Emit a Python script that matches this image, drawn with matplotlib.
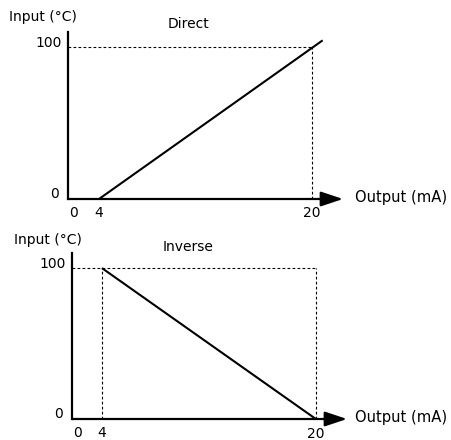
import matplotlib.pyplot as plt

plt.rcParams['font.family'] = ['DejaVu Sans']

# chart values
y_label = "Input (°C)"
x_label = "Output (mA)"
x_ticks = [0, 4, 20]
y_ticks = [0, 100]

direct_x = [4, 20.8]
direct_y = [0, 104.5]
inverse_x = [4, 20]
inverse_y = [100, 0]

W, H = 452, 440
fig = plt.figure(figsize=(W / 100, H / 100), dpi=100)


def panel(left, axis_y, top, x_lo, title, title_xy, ylab_xy, xs, ys, dotted_4, lab20_dy):
    # left/axis_y/top in pixels (from top-left corner)
    ax = fig.add_axes([left / W, (H - axis_y) / H, 275 / W, (axis_y - top) / H])
    ax.set_xlim(x_lo, 22.33)
    ax.set_ylim(0, 110)
    for s in ['top', 'right', 'bottom']:
        ax.spines[s].set_visible(False)
    ax.spines['left'].set_linewidth(1.6)
    ax.set_xticks([])
    ax.set_yticks([])

    # x axis with arrow
    ax.annotate('', xy=(22.33, 0), xytext=(x_lo, 0),
                arrowprops=dict(arrowstyle='-|>,head_length=1.35,head_width=0.45',
                                mutation_scale=10, lw=1.6, color='black',
                                shrinkA=0, shrinkB=0),
                annotation_clip=False)

    # dotted guides
    ax.plot([x_lo, 20], [100, 100], color='black', lw=0.8, ls=(0, (2.5, 2)))
    ax.plot([20, 20], [0, 100], color='black', lw=0.8, ls=(0, (2.5, 2)))
    if dotted_4:
        ax.plot([4, 4], [0, 100], color='black', lw=0.8, ls=(0, (2.5, 2)))

    ax.plot(xs, ys, color='black', lw=1.5, solid_capstyle='butt', clip_on=False)

    # tick labels
    xpos = [x_lo + 0.4, x_ticks[1], x_ticks[2]]
    ypos = [-9, -9, -9 - lab20_dy]
    for xp, yp, t in zip(xpos, ypos, x_ticks):
        ax.text(xp, yp, str(t), ha='center', va='center', fontsize=10)
    ax.text(x_lo - 0.45, y_ticks[1] + 3, str(y_ticks[1]), ha='right', va='center', fontsize=10)
    ax.text(x_lo - 0.7, y_ticks[0] + 3, str(y_ticks[0]), ha='right', va='center', fontsize=10)

    fig.text(title_xy[0] / W, 1 - title_xy[1] / H, title, ha='center', va='center', fontsize=10)
    fig.text(ylab_xy[0] / W, 1 - ylab_xy[1] / H, y_label, ha='left', va='center', fontsize=10)
    fig.text(355 / W, 1 - (axis_y - 2) / H, x_label, ha='left', va='center', fontsize=10.6)
    return ax


panel(68, 199, 32, 1.67, "Direct", (189, 24), (9, 17), direct_x, direct_y, False, 0)
panel(72, 419, 253, 1.76, "Inverse", (188, 247), (14, 240), inverse_x, inverse_y, True, 1)

fig.savefig("out.png", dpi=100)
